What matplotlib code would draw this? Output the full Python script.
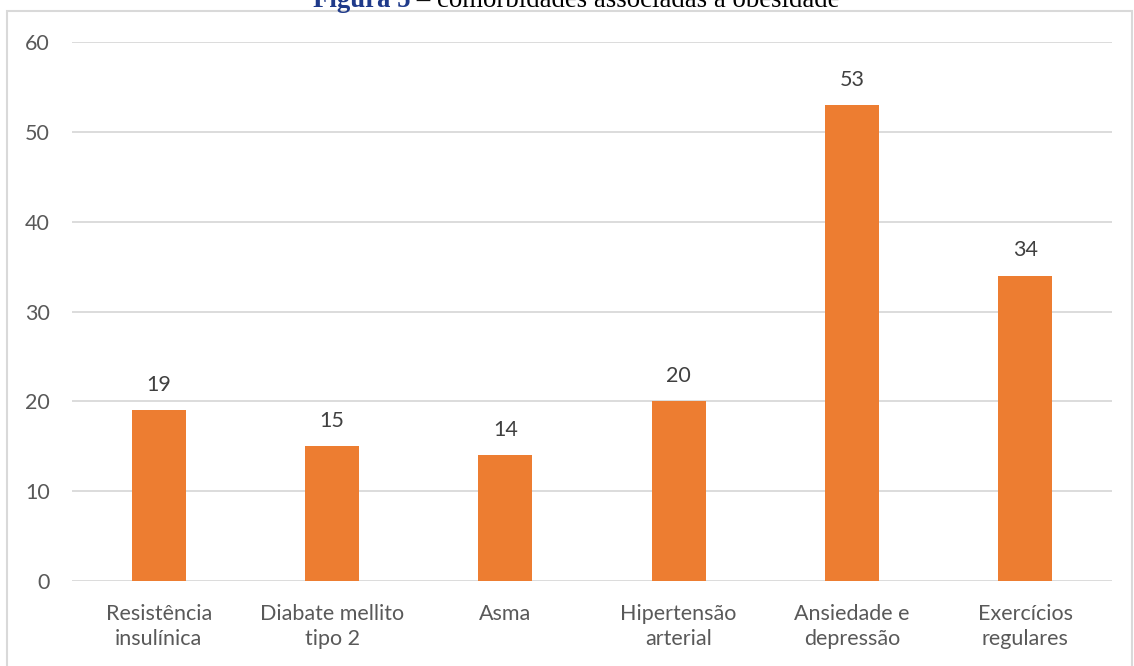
import matplotlib.pyplot as plt
from matplotlib.patches import Rectangle

# --- data ---
categorias = ["Resistência\ninsulínica", "Diabate mellito\ntipo 2", "Asma",
              "Hipertensão\narterial", "Ansiedade e\ndepressão", "Exercícios\nregulares"]
valores = [19, 15, 14, 20, 53, 34]
yticks = [0, 10, 20, 30, 40, 50, 60]

fig = plt.figure(figsize=(11.34, 6.66), dpi=100)
ax = fig.add_axes([0.0635, 0.1276, 0.9171, 0.8093])

x = range(len(categorias))
bars = ax.bar(x, valores, width=0.31, color="#ED7D31", zorder=3)

ax.set_xlim(-0.5, len(categorias) - 0.5)
ax.set_ylim(0, 60)
ax.set_yticks(yticks)
ax.set_xticks(list(x))
ax.set_xticklabels(categorias, linespacing=1.3)
ax.tick_params(axis="both", length=0, labelsize=15.5, labelcolor="#595959")
ax.tick_params(axis="y", pad=16)
ax.tick_params(axis="x", pad=16.5)
for lab in ax.get_xticklabels() + ax.get_yticklabels():
    lab.set_fontfamily("Lato")

ax.grid(axis="y", color="#d9d9d9", linewidth=1.3, zorder=0)
for s in ax.spines.values():
    s.set_visible(False)

for b, v in zip(bars, valores):
    ax.annotate(str(v), (b.get_x() + b.get_width() / 2, v), xytext=(0, 11),
                textcoords="offset points", ha="center", va="bottom",
                fontsize=15.5, color="#404040", family="Lato")

# chart border (partly cut off at the right and bottom)
fig.patches.append(Rectangle((7 / 1134, -0.05), 1125 / 1134, 1.05 - 11 / 666,
                             transform=fig.transFigure, fill=False,
                             edgecolor="#d9d9d9", linewidth=1.5))

# title, clipped at top of picture
ty = 1 - 7 / 666
t1 = fig.text(313 / 1134, ty, "Figura 5", ha="left", va="baseline",
              family="Liberation Serif", fontsize=19.3, fontweight="bold", color="#1F3A8A")
fig.canvas.draw()
bb = t1.get_window_extent()
fig.text(bb.x1 / 1134, ty, " – comorbidades associadas à obesidade", ha="left",
         va="baseline", family="Liberation Serif", fontsize=19.3, color="black")

fig.savefig("out.png", dpi=100)
